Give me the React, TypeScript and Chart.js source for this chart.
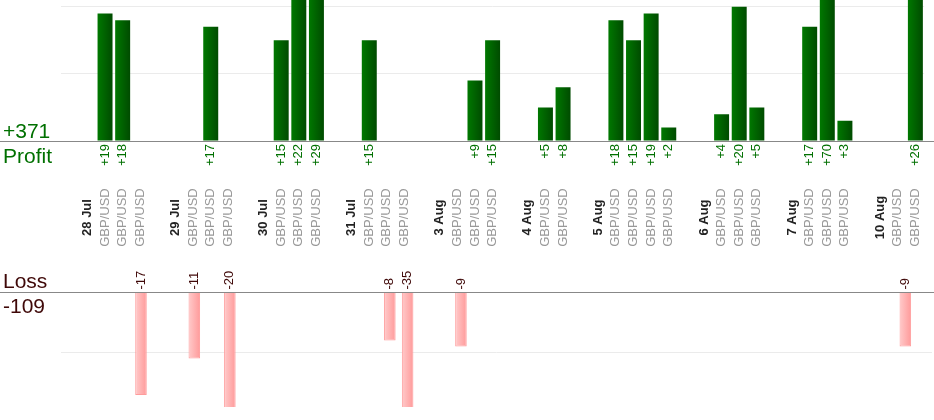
import { useEffect, useRef } from "react";
import {
  Chart,
  BarController,
  BarElement,
  CategoryScale,
  LinearScale,
  type ChartConfiguration,
  type Plugin,
  type ScriptableContext,
} from "chart.js";

Chart.register(BarController, BarElement, CategoryScale, LinearScale);

// one slot per category: empty gap, date header, then one slot per trade
const CATEGORIES = [
  "", "28 Jul", "GBP/USD", "GBP/USD", "GBP/USD",
  "", "29 Jul", "GBP/USD", "GBP/USD", "GBP/USD",
  "", "30 Jul", "GBP/USD", "GBP/USD", "GBP/USD",
  "", "31 Jul", "GBP/USD", "GBP/USD", "GBP/USD",
  "", "3 Aug", "GBP/USD", "GBP/USD", "GBP/USD",
  "", "4 Aug", "GBP/USD", "GBP/USD",
  "", "5 Aug", "GBP/USD", "GBP/USD", "GBP/USD", "GBP/USD",
  "", "6 Aug", "GBP/USD", "GBP/USD", "GBP/USD",
  "", "7 Aug", "GBP/USD", "GBP/USD", "GBP/USD",
  "", "10 Aug", "GBP/USD", "GBP/USD",
];

const PROFIT: (number | null)[] = [
  null, null, 19, 18, null,
  null, null, null, 17, null,
  null, null, 15, 22, 29,
  null, null, 15, null, null,
  null, null, null, 9, 15,
  null, null, 5, 8,
  null, null, 18, 15, 19, 2,
  null, null, 4, 20, 5,
  null, null, 17, 70, 3,
  null, null, null, 26,
];

const LOSS: (number | null)[] = [
  null, null, null, null, -17,
  null, null, -11, null, -20,
  null, null, null, null, null,
  null, null, null, -8, -35,
  null, null, -9, null, null,
  null, null, null, null,
  null, null, null, null, null, null,
  null, null, null, null, null,
  null, null, null, null, null,
  null, null, -9, null,
];

const PROFIT_LABELS = PROFIT.map((v) => (v == null ? "" : "+" + v));
const LOSS_LABELS = LOSS.map((v) => (v == null ? "" : String(v)));
const PROFIT_GRID = [10, 20];
const LOSS_GRID = [-10];

const PROFIT_TOTAL = PROFIT.reduce<number>((s, v) => s + (v ?? 0), 0);
const LOSS_TOTAL = LOSS.reduce<number>((s, v) => s + (v ?? 0), 0);

const FONT = "'Liberation Sans', Arial, sans-serif";
const W = 934;
const TOP_H = 260;
const BOTTOM_H = 160;
const GREEN_TEXT = "#007000";
const LOSS_TEXT = "#3f0808";
const GRID = "#ebebeb";

// horizontal gradient per bar, like the original's shaded columns
function barGradient(from: string, to: string, share: number) {
  return (c: ScriptableContext<"bar">) => {
    const chart = c.chart;
    if (!chart.chartArea || c.dataIndex == null) return from;
    const x = chart.scales.x;
    const cx = x.getPixelForValue(c.dataIndex);
    const half = ((x.width / CATEGORIES.length) * share) / 2;
    const g = chart.ctx.createLinearGradient(cx - half, 0, cx + half, 0);
    g.addColorStop(0, from);
    g.addColorStop(1, to);
    return g;
  };
}

function drawBaseline(chart: Chart) {
  const { ctx } = chart;
  const y0 = Math.round(chart.scales.y.getPixelForValue(0)) + 0.5;
  ctx.strokeStyle = "#888888";
  ctx.lineWidth = 1;
  ctx.beginPath();
  ctx.moveTo(0, y0);
  ctx.lineTo(chart.width, y0);
  ctx.stroke();
  return y0;
}

function drawUpright(ctx: CanvasRenderingContext2D, text: string, x: number, y: number) {
  ctx.save();
  ctx.translate(x, y);
  ctx.rotate(-Math.PI / 2);
  ctx.fillText(text, 0, 0);
  ctx.restore();
}

const profitPlugin: Plugin<"bar"> = {
  id: "profitDecor",
  afterDraw(chart) {
    const { ctx } = chart;
    ctx.save();
    const y0 = drawBaseline(chart as unknown as Chart);
    const x = chart.scales.x;

    // category row: dates bold, symbols grey, centred on one line
    const rowY = chart.chartArea.bottom + 76.5;
    ctx.textAlign = "center";
    ctx.textBaseline = "middle";
    CATEGORIES.forEach((label, i) => {
      if (!label) return;
      const isDate = /\d/.test(label);
      ctx.font = `${isDate ? "bold " : ""}13px ${FONT}`;
      ctx.fillStyle = isDate ? "#222222" : "#999999";
      drawUpright(ctx, label, x.getPixelForValue(i), rowY);
    });

    ctx.textAlign = "left";
    ctx.textBaseline = "alphabetic";
    ctx.font = `21px ${FONT}`;
    ctx.fillStyle = GREEN_TEXT;
    ctx.fillText("+" + PROFIT_TOTAL, 3, y0 - 3.5);
    ctx.fillText("Profit", 3, y0 + 21.5);
    ctx.restore();
  },
};

const lossPlugin: Plugin<"bar"> = {
  id: "lossDecor",
  afterDraw(chart) {
    const { ctx } = chart;
    ctx.save();
    const y0 = drawBaseline(chart as unknown as Chart);
    const x = chart.scales.x;

    // value labels sit above the axis, reading upwards
    ctx.textAlign = "left";
    ctx.textBaseline = "middle";
    ctx.font = `13px ${FONT}`;
    ctx.fillStyle = LOSS_TEXT;
    LOSS_LABELS.forEach((label, i) => {
      if (!label) return;
      drawUpright(ctx, label, x.getPixelForValue(i), y0 - 3);
    });

    ctx.textBaseline = "alphabetic";
    ctx.font = `21px ${FONT}`;
    ctx.fillText("Loss", 3, y0 - 4.5);
    ctx.fillText(String(LOSS_TOTAL), 3, y0 + 20.5);
    ctx.restore();
  },
};

function profitConfig(): ChartConfiguration<"bar"> {
  return {
    type: "bar",
    data: {
      labels: CATEGORIES,
      datasets: [
        {
          data: PROFIT,
          backgroundColor: barGradient("#007800", "#004b00", 0.85),
          borderWidth: 0,
          barPercentage: 0.85,
          categoryPercentage: 1,
        },
      ],
    },
    options: {
      responsive: false,
      animation: false,
      devicePixelRatio: 1,
      events: [],
      layout: { padding: { left: 0, right: 2, top: 0, bottom: 0 } },
      scales: {
        x: {
          position: "bottom",
          grid: { display: false, drawTicks: false },
          border: { display: false },
          ticks: {
            autoSkip: false,
            minRotation: 90,
            maxRotation: 90,
            padding: 3,
            color: GREEN_TEXT,
            font: { family: FONT, size: 13 },
            callback: (_v, i) => PROFIT_LABELS[i],
          },
          afterFit: (s) => {
            s.height = 119;
          },
        },
        y: {
          min: 0,
          max: 21,
          ticks: { display: false, stepSize: 10, includeBounds: false },
          grid: {
            drawTicks: false,
            color: (c) => (PROFIT_GRID.includes(c.tick?.value) ? GRID : "transparent"),
          },
          border: { display: false },
          afterFit: (s) => {
            s.width = 61;
          },
        },
      },
    },
    plugins: [profitPlugin],
  };
}

function lossConfig(): ChartConfiguration<"bar"> {
  return {
    type: "bar",
    data: {
      labels: CATEGORIES,
      datasets: [
        {
          data: LOSS,
          backgroundColor: barGradient("#ffcaca", "#ff9a9a", 0.65),
          borderColor: "#ff9c9c",
          borderWidth: 1,
          barPercentage: 0.65,
          categoryPercentage: 1,
        },
      ],
    },
    options: {
      responsive: false,
      animation: false,
      devicePixelRatio: 1,
      events: [],
      layout: { padding: { left: 0, right: 2, top: 0, bottom: 13 } },
      scales: {
        x: {
          position: "top",
          grid: { display: false, drawTicks: false },
          border: { display: false },
          ticks: { display: false },
          afterFit: (s) => {
            s.height = 32;
          },
        },
        y: {
          min: -19,
          max: 0,
          ticks: { display: false, stepSize: 10, includeBounds: false },
          grid: {
            drawTicks: false,
            color: (c) => (LOSS_GRID.includes(c.tick?.value) ? GRID : "transparent"),
          },
          border: { display: false },
          afterFit: (s) => {
            s.width = 61;
          },
        },
      },
    },
    plugins: [lossPlugin],
  };
}

function BarCanvas({
  config,
  height,
  top,
}: {
  config: () => ChartConfiguration<"bar">;
  height: number;
  top: number;
}) {
  const canvasRef = useRef<HTMLCanvasElement>(null);

  useEffect(() => {
    const canvas = canvasRef.current;
    if (!canvas) return;
    const chart = new Chart(canvas, config());
    return () => chart.destroy();
  }, [config]);

  return (
    <canvas
      ref={canvasRef}
      width={W}
      height={height}
      style={{ position: "absolute", left: 0, top, width: W, height, display: "block" }}
    />
  );
}

export default function App() {
  return (
    <div
      style={{
        position: "absolute",
        left: 0,
        top: 0,
        width: W,
        height: TOP_H + BOTTOM_H,
        background: "#ffffff",
        overflow: "hidden",
      }}
    >
      <BarCanvas config={profitConfig} height={TOP_H} top={0} />
      <BarCanvas config={lossConfig} height={BOTTOM_H} top={TOP_H} />
    </div>
  );
}
